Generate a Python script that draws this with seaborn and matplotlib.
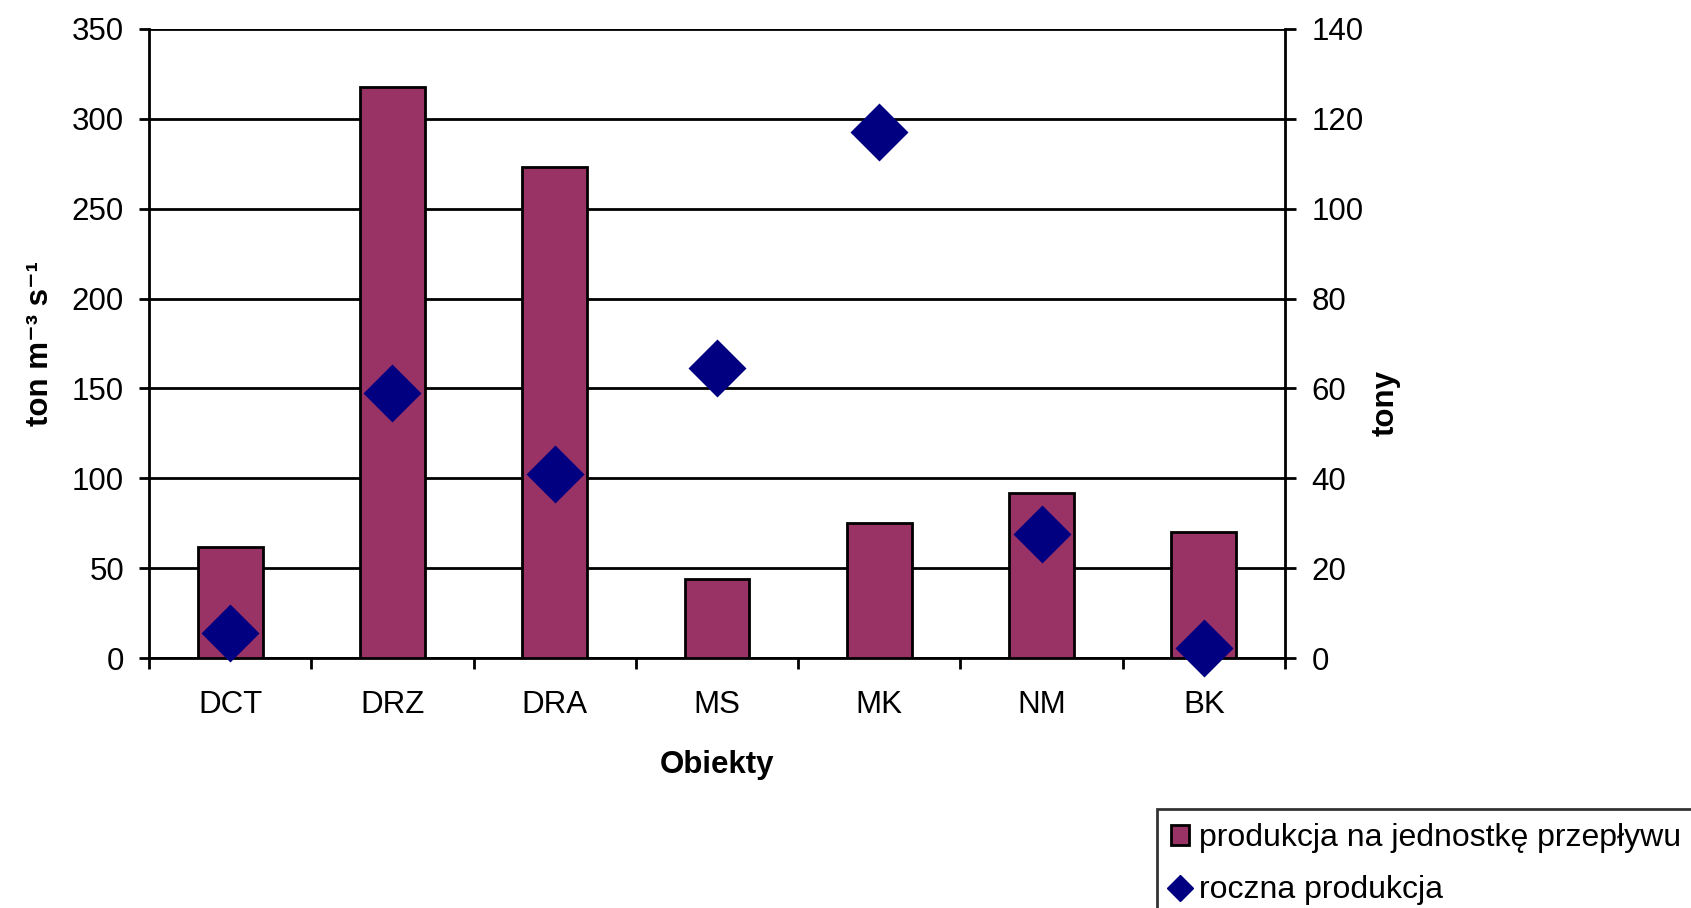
import numpy as np
import pandas as pd
import matplotlib
matplotlib.use("Agg")
import matplotlib.pyplot as plt
import seaborn as sns
from matplotlib.patches import Patch
from matplotlib.lines import Line2D

# Data
categories = ["DCT", "DRZ", "DRA", "MS", "MK", "NM", "BK"]
flow_production = [62, 318, 273, 44, 75, 92, 70]        # ton m-3 s-1 (left axis)
annual_production = [5.6, 59, 41, 64.5, 117, 27.7, 2.2]  # tony (right axis)
left_ticks = [0, 50, 100, 150, 200, 250, 300, 350]
right_ticks = [0, 20, 40, 60, 80, 100, 120, 140]

bar_color = "#993366"
marker_color = "#000080"

df = pd.DataFrame({"obiekt": categories,
                   "flow": flow_production,
                   "annual": annual_production})

sns.set_theme(style="white")
plt.rcParams["font.family"] = ["Liberation Sans", "DejaVu Sans"]
for key in ["text.color", "axes.labelcolor", "xtick.color", "ytick.color"]:
    plt.rcParams[key] = "black"

FS = 22.5

fig = plt.figure(figsize=(16.91, 9.08), dpi=100)
ax = fig.add_axes([149 / 1691, 1 - 658 / 908, (1285 - 149) / 1691, (658 - 29) / 908])

sns.barplot(data=df, x="obiekt", y="flow", order=categories, ax=ax,
            color=bar_color, saturation=1, width=0.4,
            edgecolor="black", linewidth=2, zorder=3)

ax.set_ylim(0, 350)
ax.set_yticks(left_ticks)
ax.yaxis.grid(True, color="black", linewidth=2)
ax.set_axisbelow(True)
ax.set_xlim(-0.5, len(categories) - 0.5)

# Category boundary ticks on x
ax.set_xticks(np.arange(len(categories) + 1) - 0.5, minor=True)
ax.tick_params(axis="x", which="major", length=0, pad=23, labelsize=FS)
ax.tick_params(axis="x", which="minor", length=8, width=2, color="black",
               direction="out", bottom=True)
ax.tick_params(axis="y", which="major", length=7.5, width=2, color="black",
               direction="out", left=True, labelsize=FS, pad=10.5)

for side in ["left", "bottom", "right"]:
    ax.spines[side].set_color("black")
    ax.spines[side].set_linewidth(2)
ax.spines["top"].set_visible(False)

ax.set_xlabel("Obiekty", fontsize=FS, fontweight="bold", labelpad=22)
ax.set_ylabel("ton m\u207b\u00b3 s\u207b\u00b9", fontsize=FS, fontweight="bold")
ax.yaxis.set_label_coords(-0.083, 0.50)

# Annual production on secondary axis
ax2 = ax.twinx()
sns.pointplot(data=df, x="obiekt", y="annual", order=categories, ax=ax2,
              color=marker_color, markers="D", linestyle="none",
              markersize=27, errorbar=None, zorder=4)
ax2.set_xlim(-0.5, len(categories) - 0.5)
ax2.set_ylim(0, 140)
ax2.set_yticks(right_ticks)
ax2.tick_params(axis="y", which="major", length=8, width=2, color="black",
                direction="out", right=True, labelsize=FS, pad=11)
for side in ["left", "bottom", "right", "top"]:
    ax2.spines[side].set_visible(False)
ax2.set_ylabel("tony", fontsize=FS, fontweight="bold")
ax2.yaxis.set_label_coords(1.075, 0.405)
ax2.grid(False)
for coll in ax2.collections:
    coll.set_clip_on(False)
for ln in ax2.lines:
    ln.set_clip_on(False)

handles = [
    Patch(facecolor=bar_color, edgecolor="black", linewidth=2),
    Line2D([], [], linestyle="none", marker="D", markersize=13,
           color=marker_color),
]
labels = ["produkcja na jednostkę przepływu", "roczna produkcja"]
leg = fig.legend(handles, labels, loc="upper left",
                 bbox_to_anchor=(1157 / 1691, 1 - 809 / 908),
                 fontsize=23, frameon=True, fancybox=False,
                 handlelength=0.55, handleheight=0.55, handletextpad=0.3,
                 labelspacing=0.69, borderpad=0.45, borderaxespad=0)
leg.get_frame().set_edgecolor("black")
leg.get_frame().set_linewidth(2)

fig.savefig("out.png", dpi=100)
